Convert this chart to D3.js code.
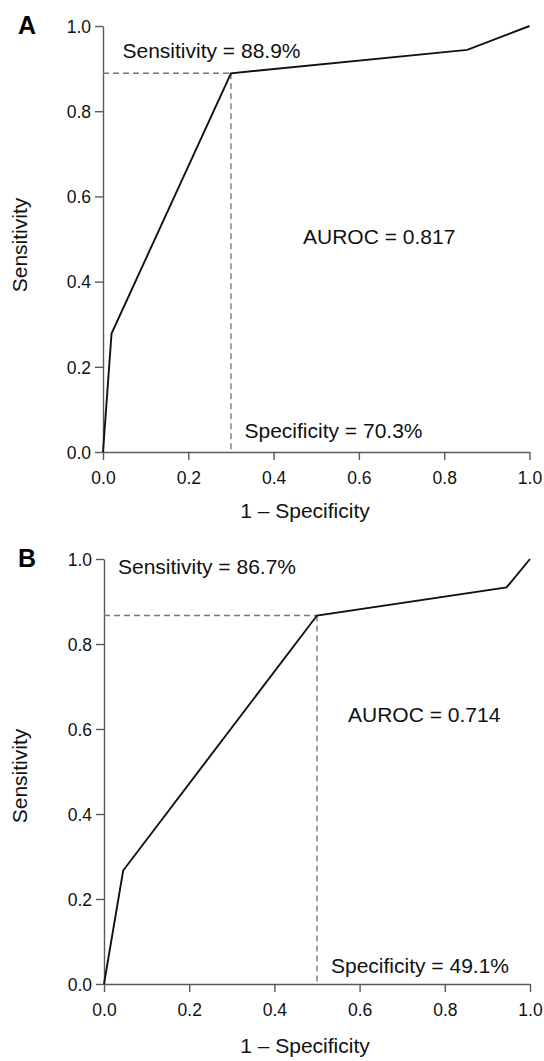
<!DOCTYPE html>
<html>
<head>
<meta charset="utf-8">
<script src="https://cdn.jsdelivr.net/npm/d3@7"></script>
<style>
  html, body { margin: 0; padding: 0; background: #fff; }
  svg { display: block; font-family: "Liberation Sans", Arial, Helvetica, sans-serif; }
</style>
</head>
<body>
<div id="chart"></div>
<script>
// ROC points
const fprA = [0, 0.02, 0.3, 0.854, 1];
const tprA = [0, 0.278, 0.889, 0.944, 1];
const fprB = [0, 0.045, 0.5, 0.945, 1];
const tprB = [0, 0.267, 0.867, 0.933, 1];

const cutA = { fpr: 0.3, tpr: 0.889 };
const cutB = { fpr: 0.5, tpr: 0.867 };

const ticks = [0, 0.2, 0.4, 0.6, 0.8, 1.0];
const panelLabels = ['A', 'B'];
const sensLabels = ['Sensitivity = 88.9%', 'Sensitivity = 86.7%'];
const specLabels = ['Specificity = 70.3%', 'Specificity = 49.1%'];
const aurocLabels = ['AUROC = 0.817', 'AUROC = 0.714'];

const width = 544, height = 1061;

const svg = d3.select('#chart')
    .append('svg')
    .attr('width', width)
    .attr('height', height);

// Panel layouts (pixel frames only)
const panels = [
    { top: 26, bottom: 452, left: 103, right: 529.5,
      fpr: fprA, tpr: tprA, cut: cutA,
      sensPos: [122.5, 58], specPos: [244.5, 438], aurocPos: [303, 244], titleY: 518, yTitleY: 245 },
    { top: 559, bottom: 984, left: 104, right: 530,
      fpr: fprB, tpr: tprB, cut: cutB,
      sensPos: [118, 574], specPos: [331, 973], aurocPos: [348, 722], titleY: 1053, yTitleY: 776 }
];

panels.forEach((p, i) => drawPanel(p, i));

function drawPanel(p, i) {
    const x = d3.scaleLinear().domain([0, 1]).range([p.left, p.right]);
    const y = d3.scaleLinear().domain([0, 1]).range([p.bottom, p.top]);
    const g = svg.append('g');

    // Axes
    const xAxis = g.append('g')
        .attr('transform', `translate(0,${p.bottom})`)
        .call(d3.axisBottom(x).tickValues(ticks).tickFormat(d3.format('.1f')).tickSize(8).tickSizeOuter(0));
    const yAxis = g.append('g')
        .attr('transform', `translate(${p.left},0)`)
        .call(d3.axisLeft(y).tickValues(ticks).tickFormat(d3.format('.1f')).tickSize(8).tickSizeOuter(0));

    [xAxis, yAxis].forEach(a => {
        a.select('.domain').attr('stroke', '#5a5a5a').attr('stroke-width', 1.4);
        a.selectAll('.tick line').attr('stroke', '#5a5a5a').attr('stroke-width', 1.4);
        a.selectAll('.tick text')
            .attr('fill', '#111')
            .style('font-size', '17.5px')
            .style('font-family', '"Liberation Sans", Arial, sans-serif');
    });
    xAxis.selectAll('.tick text').attr('dy', 0).attr('y', 32);
    yAxis.selectAll('.tick text').attr('x', -12).attr('dy', '0.36em');

    // Cut-off guides
    g.append('line')
        .attr('x1', x(0)).attr('x2', x(p.cut.fpr))
        .attr('y1', y(p.cut.tpr)).attr('y2', y(p.cut.tpr))
        .attr('stroke', '#777').attr('stroke-width', 1.4)
        .attr('stroke-dasharray', '6,4');
    g.append('line')
        .attr('x1', x(p.cut.fpr)).attr('x2', x(p.cut.fpr))
        .attr('y1', y(p.cut.tpr)).attr('y2', y(0))
        .attr('stroke', '#777').attr('stroke-width', 1.4)
        .attr('stroke-dasharray', '6,4');

    // ROC curve
    const line = d3.line()
        .x(d => x(d[0]))
        .y(d => y(d[1]));
    g.append('path')
        .datum(d3.zip(p.fpr, p.tpr))
        .attr('d', line)
        .attr('fill', 'none')
        .attr('stroke', '#111')
        .attr('stroke-width', 1.9)
        .attr('stroke-linejoin', 'miter');

    // Annotations
    const txt = (pos, s) => g.append('text')
        .attr('x', pos[0]).attr('y', pos[1])
        .attr('fill', '#111')
        .style('font-size', '21px')
        .text(s);
    txt(p.sensPos, sensLabels[i]);
    txt(p.specPos, specLabels[i]);
    txt(p.aurocPos, aurocLabels[i]);

    // Axis titles
    g.append('text')
        .attr('x', 305).attr('y', p.titleY)
        .attr('text-anchor', 'middle')
        .attr('fill', '#111')
        .style('font-size', '21px')
        .text('1 \u2013 Specificity');
    g.append('text')
        .attr('transform', `translate(27,${p.yTitleY}) rotate(-90)`)
        .attr('text-anchor', 'middle')
        .attr('fill', '#111')
        .style('font-size', '21px')
        .text('Sensitivity');

    // Panel letter
    g.append('text')
        .attr('x', 18).attr('y', p.top + 8)
        .attr('fill', '#000')
        .style('font-size', '25px')
        .style('font-weight', 'bold')
        .text(panelLabels[i]);
}
</script>
</body>
</html>
